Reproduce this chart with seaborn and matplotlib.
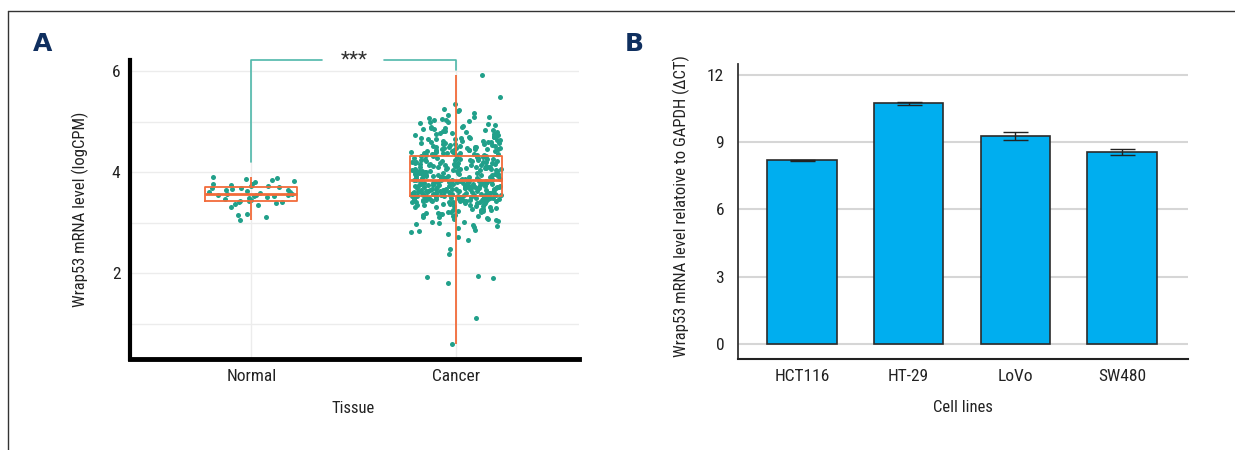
import numpy as np
import pandas as pd
import matplotlib
matplotlib.use("Agg")
import matplotlib.pyplot as plt
import seaborn as sns
from matplotlib import font_manager
from matplotlib.lines import Line2D
from matplotlib.ticker import MultipleLocator

# ======================================================
#   Данные
# ======================================================

tissue_order = ["Normal", "Cancer"]

normal_vals = [
    3.90, 3.89, 3.86, 3.84, 3.83, 3.80, 3.77, 3.76, 3.75, 3.73, 3.72,
    3.70, 3.69, 3.68, 3.66, 3.65, 3.64, 3.62, 3.61, 3.60, 3.58, 3.57,
    3.56, 3.55, 3.55, 3.54, 3.53, 3.52, 3.50, 3.49, 3.47, 3.45, 3.43,
    3.42, 3.41, 3.40, 3.39, 3.37, 3.35, 3.30, 3.18, 3.15, 3.11, 3.05,
]

cancer_vals = [
    # нижний хвост
    0.59, 1.12, 1.81, 1.91, 1.93, 1.95, 2.38, 2.47, 2.66, 2.72, 2.77,
    2.81, 2.84, 2.86, 2.89, 2.91, 2.93, 2.95, 2.97, 2.99,
    3.01, 3.02, 3.04, 3.05, 3.07, 3.08, 3.09, 3.11, 3.12, 3.13, 3.14,
    3.15, 3.16, 3.17, 3.18, 3.19,
    3.20, 3.21, 3.22, 3.22, 3.23, 3.24, 3.25, 3.26, 3.26, 3.27, 3.28,
    3.29, 3.30, 3.30, 3.31, 3.32, 3.33, 3.33, 3.34, 3.35, 3.35, 3.36,
    3.37, 3.37, 3.38, 3.39, 3.39,
    3.40, 3.40, 3.41, 3.41, 3.41, 3.42, 3.42, 3.42, 3.43, 3.43, 3.43,
    3.44, 3.44, 3.44, 3.45, 3.45, 3.45, 3.46, 3.46, 3.46, 3.47, 3.47,
    3.47, 3.48, 3.48, 3.48, 3.49, 3.49, 3.49, 3.50, 3.50, 3.50, 3.50,
    3.51, 3.51, 3.51, 3.51, 3.52, 3.52, 3.52, 3.52, 3.52,
    # Q1 .. медиана
    3.53, 3.53, 3.53, 3.54, 3.54, 3.54, 3.55, 3.55, 3.55, 3.55,
    3.56, 3.56, 3.56, 3.57, 3.57, 3.57, 3.58, 3.58, 3.58, 3.58,
    3.59, 3.59, 3.59, 3.60, 3.60, 3.60, 3.61, 3.61, 3.61, 3.61,
    3.62, 3.62, 3.62, 3.63, 3.63, 3.63, 3.64, 3.64, 3.64, 3.64,
    3.65, 3.65, 3.65, 3.66, 3.66, 3.66, 3.67, 3.67, 3.67, 3.67,
    3.68, 3.68, 3.68, 3.69, 3.69, 3.69, 3.70, 3.70, 3.70, 3.70,
    3.71, 3.71, 3.71, 3.72, 3.72, 3.72, 3.73, 3.73, 3.73, 3.74,
    3.74, 3.74, 3.75, 3.75, 3.75, 3.76, 3.76, 3.76, 3.77, 3.77,
    3.77, 3.78, 3.78, 3.78, 3.79, 3.79, 3.79, 3.80, 3.80, 3.80,
    3.81, 3.81, 3.81, 3.82, 3.82, 3.82, 3.83, 3.83, 3.83, 3.83,
    3.84, 3.84, 3.84, 3.84, 3.84,
    # медиана .. Q3
    3.85, 3.85, 3.86, 3.86, 3.86, 3.87, 3.87, 3.88, 3.88, 3.88,
    3.89, 3.89, 3.90, 3.90, 3.90, 3.91, 3.91, 3.92, 3.92, 3.92,
    3.93, 3.93, 3.94, 3.94, 3.95, 3.95, 3.95, 3.96, 3.96, 3.97,
    3.97, 3.98, 3.98, 3.98, 3.99, 3.99, 4.00, 4.00, 4.01, 4.01,
    4.02, 4.02, 4.02, 4.03, 4.03, 4.04, 4.04, 4.05, 4.05, 4.06,
    4.06, 4.06, 4.07, 4.07, 4.08, 4.08, 4.09, 4.09, 4.10, 4.10,
    4.10, 4.11, 4.11, 4.12, 4.12, 4.13, 4.13, 4.14, 4.14, 4.15,
    4.15, 4.16, 4.16, 4.17, 4.17, 4.18, 4.18, 4.19, 4.19, 4.20,
    4.20, 4.21, 4.21, 4.22, 4.22, 4.23, 4.23, 4.24, 4.24, 4.25,
    4.25, 4.26, 4.26, 4.27, 4.27, 4.28, 4.28, 4.29, 4.29, 4.30,
    4.30, 4.31, 4.31, 4.32, 4.32,
    # верхняя часть
    4.33, 4.33, 4.34, 4.34, 4.35, 4.35, 4.36, 4.36, 4.37, 4.37,
    4.38, 4.38, 4.39, 4.39, 4.40, 4.40, 4.41, 4.41, 4.42, 4.42,
    4.43, 4.43, 4.44, 4.44, 4.45, 4.45, 4.46, 4.46, 4.47, 4.47,
    4.48, 4.48, 4.49, 4.49, 4.50, 4.50,
    4.51, 4.52, 4.52, 4.53, 4.54, 4.55, 4.55, 4.56, 4.57, 4.58,
    4.58, 4.59, 4.60, 4.60, 4.61, 4.62, 4.62, 4.63, 4.64, 4.65,
    4.65, 4.66, 4.67, 4.67, 4.68, 4.69, 4.69, 4.70,
    4.71, 4.72, 4.73, 4.74, 4.75, 4.76, 4.77, 4.78, 4.79, 4.80,
    4.81, 4.82, 4.83, 4.84, 4.85, 4.86, 4.87, 4.88, 4.89, 4.90,
    4.92, 4.94, 4.95, 4.97, 4.99, 5.00, 5.02, 5.03, 5.04, 5.05,
    5.07, 5.09, 5.10,
    5.13, 5.17, 5.22, 5.24, 5.26, 5.35, 5.48, 5.92,
]

cell_lines = ["HCT116", "HT-29", "LoVo", "SW480"]
delta_ct = [8.19, 10.72, 9.28, 8.57]
delta_ct_err = [0.02, 0.08, 0.19, 0.13]

# ======================================================
#   Оформление
# ======================================================

sns.set_style("white")

# ищем узкий шрифт (в оригинале — condensed)
installed = {f.name for f in font_manager.fontManager.ttflist}
narrow_pref = ["Liberation Sans Narrow", "Roboto Condensed", "Open Sans Condensed",
               "DejaVu Sans Condensed", "Noto Sans Condensed", "Arial Narrow"]
base_font = None
for name in narrow_pref:
    if name in installed:
        base_font = name
        break
stretch = "normal"
if base_font is None:
    cond = [f for f in font_manager.fontManager.ttflist
            if str(f.stretch) in ("condensed", "semi-condensed", "extra-condensed")
            and f.style == "normal"]
    if cond:
        base_font = cond[0].name
        stretch = cond[0].stretch
narrow_found = base_font is not None
if base_font is None:
    base_font = "Liberation Sans"

plt.rcParams["font.family"] = [base_font, "DejaVu Sans"]
plt.rcParams["font.stretch"] = stretch
FS = 12 if narrow_found else 11

TEAL = "#21a08a"
TEAL_LINE = "#4fb8aa"
ORANGE = "#f26b3a"
BLUE = "#00aeef"
NAVY = "#0f2f5f"

fig = plt.figure(figsize=(12.35, 4.5), dpi=100)

# рамка (верх и левый край)
fig.add_artist(Line2D([8 / 1235, 8 / 1235], [0, 1 - 11 / 450],
                      transform=fig.transFigure, color="#333333", lw=1))
fig.add_artist(Line2D([8 / 1235, 1], [1 - 11 / 450, 1 - 11 / 450],
                      transform=fig.transFigure, color="#333333", lw=1))

# ======================================================
#   A. Boxplot + точки
# ======================================================

df = pd.DataFrame({
    "Tissue": ["Normal"] * len(normal_vals) + ["Cancer"] * len(cancer_vals),
    "value": normal_vals + cancer_vals,
})

axA = fig.add_axes([0.1053, 0.2022, 0.3635, 0.6644])
np.random.seed(7)
sns.stripplot(data=df, x="Tissue", y="value", order=tissue_order,
              jitter=0.22, size=3.6, color=TEAL, linewidth=0, ax=axA, zorder=2)
sns.boxplot(data=df, x="Tissue", y="value", order=tissue_order,
            fill=False, color=ORANGE, width=0.45, whis=(0, 100),
            showcaps=False, linewidth=1.3,
            medianprops={"linewidth": 2.0, "color": ORANGE},
            ax=axA, zorder=3)

axA.set_xlim(-0.593, 1.60)
axA.set_ylim(0.30, 6.22)
axA.yaxis.set_major_locator(MultipleLocator(2))
axA.yaxis.set_minor_locator(MultipleLocator(1))
axA.grid(True, which="both", color="#ececec", lw=1)
axA.set_axisbelow(True)
for s in ["top", "right"]:
    axA.spines[s].set_visible(False)
axA.spines["left"].set_linewidth(3)
axA.spines["bottom"].set_linewidth(3.5)
axA.spines["left"].set_color("black")
axA.spines["bottom"].set_color("black")
axA.tick_params(axis="both", length=0, labelsize=FS + 0.5, colors="#222222")
axA.tick_params(axis="y", pad=7)
axA.tick_params(axis="x", pad=7)
axA.set_ylabel("Wrap53 mRNA level (logCPM)", fontsize=FS, color="#222222")
axA.set_xlabel("Tissue", fontsize=FS, color="#222222")
axA.yaxis.set_label_coords(-0.111, 0.5)
axA.xaxis.set_label_coords(0.497, -0.164)
axA.xaxis.label.set_va("center")
axA.yaxis.label.set_va("center")

# скобка значимости
axA.plot([0, 0, 0.347], [4.2, 6.22, 6.22], color=TEAL_LINE, lw=1.2, clip_on=False)
axA.plot([0.646, 1, 1], [6.22, 6.22, 6.02], color=TEAL_LINE, lw=1.2, clip_on=False)
axA.text(0.5, 6.22, "***", ha="center", va="center", fontsize=15,
         color="#333333", clip_on=False)

fig.text(33 / 1235, 1 - 44 / 450, "A", fontsize=18, fontweight="bold",
         color=NAVY, va="center", ha="left", family="DejaVu Sans")

# ======================================================
#   B. Barplot
# ======================================================

axB = fig.add_axes([0.5976, 0.2022, 0.3644, 0.6556])
sns.barplot(x=cell_lines, y=delta_ct, order=cell_lines, color=BLUE,
            saturation=1, width=0.65, errorbar=None,
            edgecolor="#2b2b2b", linewidth=1.2, ax=axB, zorder=2)
axB.errorbar(cell_lines, delta_ct, yerr=delta_ct_err, fmt="none",
             ecolor="#222222", elinewidth=1, capsize=9, capthick=1, zorder=3)

axB.set_xlim(-0.60, 3.62)
axB.set_ylim(-0.67, 12.48)
axB.set_yticks([0, 3, 6, 9, 12])
axB.grid(True, axis="y", color="#d6d6d6", lw=1.5)
axB.set_axisbelow(True)
for s in ["top", "right"]:
    axB.spines[s].set_visible(False)
axB.spines["left"].set_color("#333333")
axB.spines["bottom"].set_color("#222222")
axB.spines["left"].set_linewidth(1.3)
axB.spines["bottom"].set_linewidth(1.5)
axB.tick_params(axis="both", length=0, labelsize=FS + 0.5, colors="#222222")
axB.tick_params(axis="y", pad=10)
axB.tick_params(axis="x", pad=7)
axB.set_ylabel("Wrap53 mRNA level relatoive to GAPDH (ΔCT)", fontsize=FS,
               color="#222222")
axB.set_xlabel("Cell lines", fontsize=FS, color="#222222")
axB.yaxis.set_label_coords(-0.127, 0.52)
axB.xaxis.set_label_coords(0.5, -0.164)
axB.xaxis.label.set_va("center")
axB.yaxis.label.set_va("center")

fig.text(625 / 1235, 1 - 44 / 450, "B", fontsize=18, fontweight="bold",
         color=NAVY, va="center", ha="left", family="DejaVu Sans")

plt.savefig("out.png", dpi=100)
